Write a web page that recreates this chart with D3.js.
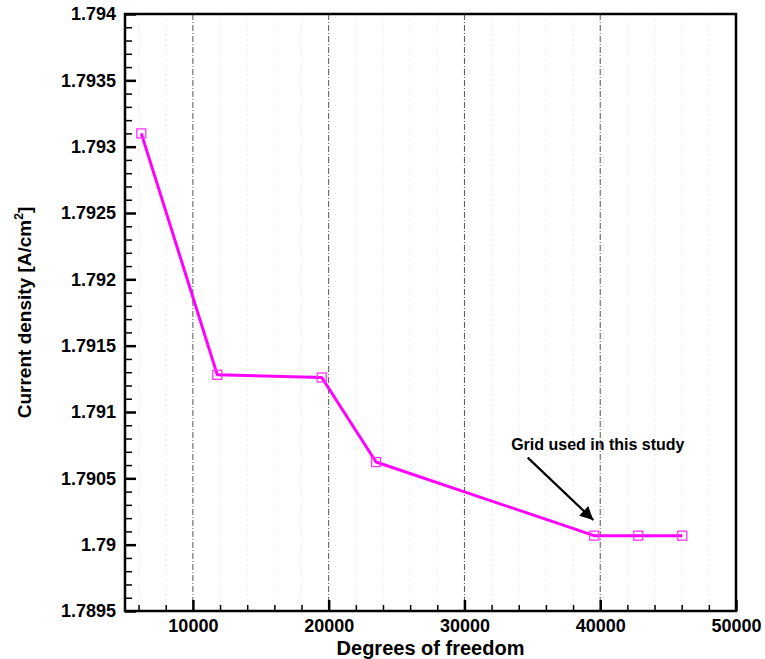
<!DOCTYPE html>
<html>
<head>
<meta charset="utf-8">
<script src="https://cdn.jsdelivr.net/npm/d3@7"></script>
<style>
  html, body { margin: 0; padding: 0; background: #fff; }
  svg { display: block; }
  text { font-family: Arial, "Liberation Sans", Helvetica, sans-serif; font-weight: bold; fill: #000; }
</style>
</head>
<body>
<svg id="chart" width="765" height="659"></svg>
<script>
// Grid-independence study: current density vs. mesh size
const dof = [6200, 11800, 19490, 23490, 39560, 42800, 46040];
const currentDensity = [1.79310, 1.79128, 1.79126, 1.790623, 1.790068, 1.790068, 1.790068];

const xTicks = [10000, 20000, 30000, 40000, 50000];
const yTicks = [1.7895, 1.79, 1.7905, 1.791, 1.7915, 1.792, 1.7925, 1.793, 1.7935, 1.794];
const yTickLabels = ["1.7895", "1.79", "1.7905", "1.791", "1.7915", "1.792", "1.7925", "1.793", "1.7935", "1.794"];

// annotation: label position and arrow endpoints in data units
const noteText = "Grid used in this study";
const noteAt = [33440, 1.790715];
const arrowFrom = [34660, 1.790656];
const arrowTo = [39490, 1.790186];

const W = 765, H = 659;
const margin = { left: 125, right: 29, top: 14, bottom: 48 };

const svg = d3.select("#chart");
svg.append("rect").attr("width", W).attr("height", H).attr("fill", "#fff");

const x = d3.scaleLinear().domain([5000, 50000]).range([margin.left, W - margin.right]);
const y = d3.scaleLinear().domain([1.7895, 1.794]).range([H - margin.bottom, margin.top]);

const x0 = x.range()[0], x1 = x.range()[1];
const yb = y.range()[0], yt = y.range()[1];

// faint minor vertical grid
const xMinor = d3.range(6000, 50000, 2000).filter(v => v % 10000 !== 0);
svg.append("g").selectAll("line").data(xMinor).join("line")
  .attr("x1", d => x(d)).attr("x2", d => x(d))
  .attr("y1", yt).attr("y2", yb)
  .attr("stroke", "#e6e6e6").attr("stroke-width", 0.8)
  .attr("stroke-dasharray", "2,3");

// major vertical grid, dash-dot
svg.append("g").selectAll("line").data(xTicks.filter(v => v < 50000)).join("line")
  .attr("x1", d => x(d)).attr("x2", d => x(d))
  .attr("y1", yt).attr("y2", yb)
  .attr("stroke", "#555").attr("stroke-width", 1)
  .attr("stroke-dasharray", "6,2,1,2");

// bottom axis: inward ticks
const xAxis = d3.axisBottom(x).tickValues(xTicks).tickSize(-11).tickPadding(0).tickFormat(d3.format("d"));
const gx = svg.append("g").attr("transform", `translate(0,${yb})`).call(xAxis);
gx.select(".domain").remove();
gx.selectAll(".tick line").attr("stroke", "#000").attr("stroke-width", 2.5);
gx.selectAll(".tick text").attr("y", 8).attr("font-size", 18).attr("font-family", null);

const xMinorAxis = d3.axisBottom(x).tickValues(xMinor).tickSize(-6).tickFormat("");
const gxm = svg.append("g").attr("transform", `translate(0,${yb})`).call(xMinorAxis);
gxm.select(".domain").remove();
gxm.selectAll(".tick line").attr("stroke", "#000").attr("stroke-width", 1.5);

// left axis: inward ticks
const yAxis = d3.axisLeft(y).tickValues(yTicks).tickSize(-11).tickPadding(0)
  .tickFormat((d, i) => yTickLabels[i]);
const gy = svg.append("g").attr("transform", `translate(${x0},0)`).call(yAxis);
gy.select(".domain").remove();
gy.selectAll(".tick line").attr("stroke", "#000").attr("stroke-width", 2.5);
gy.selectAll(".tick text").attr("x", -9).attr("font-size", 18).attr("font-family", null);

const yMinor = d3.range(0, 45).map(i => 1.7895 + i * 0.0001).filter((v, i) => i % 5 !== 0);
const yMinorAxis = d3.axisLeft(y).tickValues(yMinor).tickSize(-7).tickFormat("");
const gym = svg.append("g").attr("transform", `translate(${x0},0)`).call(yMinorAxis);
gym.select(".domain").remove();
gym.selectAll(".tick line").attr("stroke", "#000").attr("stroke-width", 1.5);

// frame
svg.append("rect")
  .attr("x", x0).attr("y", yt).attr("width", x1 - x0).attr("height", yb - yt)
  .attr("fill", "none").attr("stroke", "#000").attr("stroke-width", 2.5);

// series line
const pts = dof.map((d, i) => [d, currentDensity[i]]);
svg.append("path")
  .datum(pts)
  .attr("fill", "none").attr("stroke", "#ff00ff").attr("stroke-width", 3)
  .attr("stroke-linejoin", "round")
  .attr("d", d3.line().x(d => x(d[0])).y(d => y(d[1])));

// hollow square markers
const ms = 9;
svg.append("g").selectAll("rect").data(pts).join("rect")
  .attr("x", d => x(d[0]) - ms / 2).attr("y", d => y(d[1]) - ms / 2)
  .attr("width", ms).attr("height", ms)
  .attr("fill", "none").attr("stroke", "#ff33ff").attr("stroke-width", 1.3);

// annotation
svg.append("defs").append("marker")
  .attr("id", "arrowhead").attr("viewBox", "0 0 10 10")
  .attr("refX", 10).attr("refY", 5)
  .attr("markerWidth", 9).attr("markerHeight", 6).attr("markerUnits", "strokeWidth")
  .attr("orient", "auto")
  .append("path").attr("d", "M0,0 L10,5 L0,10 Z").attr("fill", "#000");

svg.append("line")
  .attr("x1", x(arrowFrom[0])).attr("y1", y(arrowFrom[1]))
  .attr("x2", x(arrowTo[0])).attr("y2", y(arrowTo[1]))
  .attr("stroke", "#000").attr("stroke-width", 2.2)
  .attr("marker-end", "url(#arrowhead)");

svg.append("text")
  .attr("x", x(noteAt[0])).attr("y", y(noteAt[1]))
  .attr("font-size", 16)
  .text(noteText);

// axis titles
svg.append("text")
  .attr("x", (x0 + x1) / 2).attr("y", 655)
  .attr("text-anchor", "middle").attr("font-size", 20)
  .text("Degrees of freedom");

const yTitle = svg.append("text")
  .attr("transform", `translate(31,${(yt + yb) / 2}) rotate(-90)`)
  .attr("text-anchor", "middle").attr("font-size", 19);
yTitle.append("tspan").text("Current density [A/cm");
yTitle.append("tspan").attr("font-size", 12).attr("dy", -8).text("2");
yTitle.append("tspan").attr("dy", 8).text("]");
</script>
</body>
</html>
